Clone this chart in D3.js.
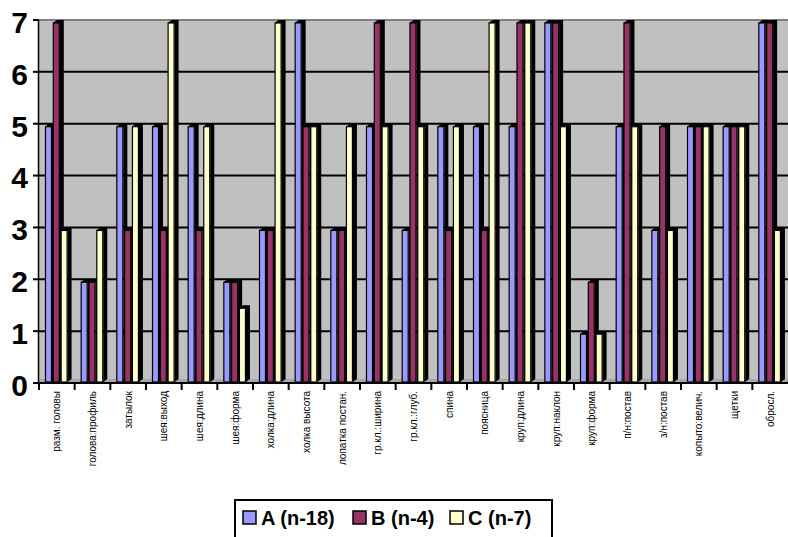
<!DOCTYPE html>
<html>
<head>
<meta charset="utf-8">
<script src="https://cdn.jsdelivr.net/npm/d3@7"></script>
<style>
  html, body { margin: 0; padding: 0; background: #fff; }
  svg { display: block; }
  text { font-family: Arial, "Liberation Sans", sans-serif; }
</style>
</head>
<body>
<svg id="chart" width="788" height="537"></svg>
<script>
// Trait categories along the x axis
const categories = [
  "разм. головы", "голова:профиль", "затылок", "шея:выход", "шея:длина",
  "шея:форма", "холка:длина", "холка высота", "лопатка постан.", "гр.кл.:ширина",
  "гр.кл.:глуб.", "спина", "поясница", "круп:длина", "круп:наклон",
  "круп:форма", "п/н:постав", "з/н:постав", "копыто:велич.", "щетки", "обросл."
];

// Series names and scores per category
const seriesNames = ["A (n-18)", "B (n-4)", "C (n-7)"];
const seriesA = [5, 2, 5, 5, 5, 2, 3, 7, 3, 5, 3, 5, 5, 5, 7, 1, 5, 3, 5, 5, 7];
const seriesB = [7, 2, 3, 3, 3, 2, 3, 5, 3, 7, 7, 3, 3, 7, 7, 2, 7, 5, 5, 5, 7];
const seriesC = [3, 3, 5, 7, 5, 1.5, 7, 5, 5, 5, 5, 5, 7, 7, 5, 1, 5, 3, 5, 5, 3];
const yTicks = [0, 1, 2, 3, 4, 5, 6, 7];

const colors = ["#9999FF", "#993366", "#FFFFCC"];
const seriesValues = [seriesA, seriesB, seriesC];

const svg = d3.select("#chart");

const plotLeft = 39, plotRight = 788, plotTop = 20, plotBottom = 383;

const x = d3.scaleBand().domain(categories).range([plotLeft, plotRight]).padding(0);
const y = d3.scaleLinear().domain([0, 7]).range([plotBottom, plotTop]);

// Back wall
svg.append("rect")
  .attr("x", plotLeft).attr("y", plotTop)
  .attr("width", plotRight - plotLeft).attr("height", plotBottom - plotTop)
  .attr("fill", "#C0C0C0");
svg.append("rect")
  .attr("x", plotLeft).attr("y", plotBottom - 4)
  .attr("width", plotRight - plotLeft).attr("height", 4)
  .attr("fill", "#A8A8A8");
svg.append("line")
  .attr("x1", plotLeft).attr("x2", plotRight)
  .attr("y1", plotTop).attr("y2", plotTop)
  .attr("stroke", "#808080").attr("stroke-width", 2);

// Horizontal gridlines on the wall
svg.append("g").selectAll("line")
  .data(yTicks.filter(d => d > 0 && d < 7))
  .join("line")
  .attr("x1", plotLeft).attr("x2", plotRight)
  .attr("y1", d => y(d)).attr("y2", d => y(d))
  .attr("stroke", "#000").attr("stroke-width", 2);

// Columns with a dark depth face (side + top)
const depthX = 4, depthY = 3;
const barOffset = 6, barStep = 7.8, barWidth = 7;

const bars = [];
categories.forEach((c, ci) => {
  seriesValues.forEach((vals, si) => {
    bars.push({ cat: c, si, value: vals[ci] });
  });
});

const barG = svg.append("g");
const groups = barG.selectAll("g.bar")
  .data(bars)
  .join("g")
  .attr("class", "bar");

groups.each(function (d) {
  const g = d3.select(this);
  const xl = x(d.cat) + barOffset + d.si * barStep;
  const xr = xl + barWidth;
  const yt = y(d.value) + depthY;
  const yb = plotBottom - 1;
  // side + top face
  g.append("path")
    .attr("d", `M${xl},${yt} L${xl + depthX},${yt - depthY} L${xr + depthX},${yt - depthY} L${xr + depthX},${yb - depthY} L${xr},${yb} L${xr},${yt} Z`)
    .attr("fill", "#000");
  // front face
  g.append("rect")
    .attr("x", xl + 0.5).attr("y", yt)
    .attr("width", barWidth - 1).attr("height", Math.max(0, yb - yt))
    .attr("fill", colors[d.si])
    .attr("stroke", "#000").attr("stroke-width", 1.2);
});

// Y axis
const yAxis = svg.append("g");
yAxis.append("line")
  .attr("x1", plotLeft - 0.5).attr("x2", plotLeft - 0.5)
  .attr("y1", plotTop).attr("y2", plotBottom)
  .attr("stroke", "#000").attr("stroke-width", 1.5);
yAxis.selectAll("line.tick")
  .data(yTicks)
  .join("line")
  .attr("class", "tick")
  .attr("x1", 33).attr("x2", plotLeft)
  .attr("y1", d => y(d)).attr("y2", d => y(d))
  .attr("stroke", "#000").attr("stroke-width", 2);
yAxis.selectAll("text")
  .data(yTicks)
  .join("text")
  .attr("x", 28).attr("y", d => y(d) + 2)
  .attr("dy", "0.36em")
  .attr("text-anchor", "end")
  .attr("font-size", 30).attr("font-weight", "bold")
  .attr("fill", "#000")
  .text(d => d);

// X axis
const xAxis = svg.append("g");
xAxis.append("line")
  .attr("x1", plotLeft - 2).attr("x2", plotRight)
  .attr("y1", plotBottom).attr("y2", plotBottom)
  .attr("stroke", "#000").attr("stroke-width", 2);
const boundaries = categories.map(c => x(c));
xAxis.selectAll("line.tick")
  .data(boundaries)
  .join("line")
  .attr("class", "tick")
  .attr("x1", d => d).attr("x2", d => d)
  .attr("y1", plotBottom).attr("y2", plotBottom + 7)
  .attr("stroke", "#000").attr("stroke-width", 2);
xAxis.selectAll("text")
  .data(categories)
  .join("text")
  .attr("transform", d => `translate(${x(d) + x.bandwidth() / 2},${plotBottom + 8}) rotate(-90)`)
  .attr("dy", "0.35em")
  .attr("text-anchor", "end")
  .attr("font-size", 10)
  .attr("fill", "#000")
  .text(d => d);

// Legend
const legend = svg.append("g");
legend.append("rect")
  .attr("x", 235).attr("y", 500)
  .attr("width", 317).attr("height", 50)
  .attr("fill", "#fff").attr("stroke", "#000").attr("stroke-width", 2);
const legendX = [243, 353, 450];
const items = legend.selectAll("g.item")
  .data(seriesNames)
  .join("g")
  .attr("class", "item")
  .attr("transform", (d, i) => `translate(${legendX[i]},511)`);
items.append("rect")
  .attr("x", 0).attr("y", 0).attr("width", 13).attr("height", 13)
  .attr("fill", (d, i) => colors[i])
  .attr("stroke", "#000").attr("stroke-width", 1.5);
items.append("text")
  .attr("x", 18).attr("y", 13.5)
  .attr("font-size", 20).attr("font-weight", "bold")
  .attr("fill", "#000")
  .text(d => d);
</script>
</body>
</html>
